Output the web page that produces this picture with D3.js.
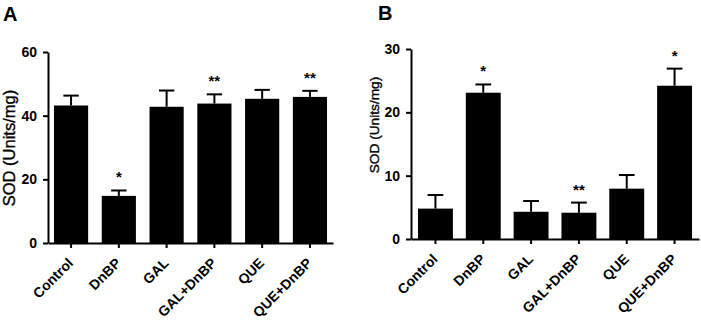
<!DOCTYPE html>
<html>
<head>
<meta charset="utf-8">
<script src="https://cdn.jsdelivr.net/npm/d3@7"></script>
<style>
  body { margin: 0; background: #fff; }
  svg { font-family: "Liberation Sans", Arial, sans-serif; }
  .heavy { stroke: #000; stroke-width: 0.35px; }
</style>
</head>
<body>
<div id="chart"></div>
<script>
// groups on the x axis
const categories = ['Control', 'DnBP', 'GAL', 'GAL+DnBP', 'QUE', 'QUE+DnBP'];

// panel A values (SOD, Units/mg)
const meanA = [43.2, 14.8, 42.8, 43.8, 45.3, 45.9];
const errA = [3.1, 1.7, 5.1, 2.9, 2.8, 1.9];
const sigA = ['', '*', '', '**', '', '**'];
const ticksA = [0, 20, 40, 60];

// panel B values (SOD, Units/mg)
const meanB = [4.8, 23.1, 4.3, 4.15, 7.95, 24.2];
const errB = [2.15, 1.3, 1.7, 1.6, 2.15, 2.7];
const sigB = ['', '*', '', '**', '', '*'];
const ticksB = [0, 10, 20, 30];

const svg = d3.select('#chart')
	.append('svg')
	.attr('width', 701)
	.attr('height', 321);

function drawPanel(opts) {
	const g = svg.append('g');

	const x = d3.scaleBand()
		.domain(categories)
		.range(opts.xRange)
		.paddingInner(opts.padIn)
		.paddingOuter(opts.padOut);

	const y = d3.scaleLinear()
		.domain(opts.yDomain)
		.range(opts.yRange);

	const data = categories.map((c, i) => ({
		cat: c,
		mean: opts.mean[i],
		err: opts.err[i],
		sig: opts.sig[i],
	}));

	// bars
	g.selectAll('rect.bar')
		.data(data)
		.enter()
		.append('rect')
		.attr('class', 'bar')
		.attr('x', (d) => x(d.cat))
		.attr('y', (d) => y(d.mean))
		.attr('width', x.bandwidth())
		.attr('height', (d) => y(0) - y(d.mean))
		.attr('fill', '#000');

	// upper error bars
	const cap = x.bandwidth() * 0.45;
	g.selectAll('line.err')
		.data(data)
		.enter()
		.append('line')
		.attr('x1', (d) => x(d.cat) + x.bandwidth() / 2)
		.attr('x2', (d) => x(d.cat) + x.bandwidth() / 2)
		.attr('y1', (d) => y(d.mean))
		.attr('y2', (d) => y(d.mean + d.err))
		.attr('stroke', '#000')
		.attr('stroke-width', 2);
	g.selectAll('line.cap')
		.data(data)
		.enter()
		.append('line')
		.attr('x1', (d) => x(d.cat) + x.bandwidth() / 2 - cap / 2)
		.attr('x2', (d) => x(d.cat) + x.bandwidth() / 2 + cap / 2)
		.attr('y1', (d) => y(d.mean + d.err))
		.attr('y2', (d) => y(d.mean + d.err))
		.attr('stroke', '#000')
		.attr('stroke-width', 2);

	// significance marks
	g.selectAll('text.sig')
		.data(data.filter((d) => d.sig))
		.enter()
		.append('text')
		.attr('x', (d) => x(d.cat) + x.bandwidth() / 2)
		.attr('y', (d) => y(d.mean + d.err) - 8)
		.attr('text-anchor', 'middle')
		.style('font-size', '15px')
		.style('font-weight', 'bold')
		.text((d) => d.sig);

	// y axis
	const yAxis = g.append('g')
		.attr('transform', `translate(${opts.xRange[0]},0)`)
		.call(d3.axisLeft(y).tickValues(opts.ticks).tickSize(5).tickSizeOuter(0).tickPadding(6));
	yAxis.select('.domain').attr('stroke-width', 2);
	yAxis.selectAll('.tick line').attr('stroke-width', 2);
	yAxis.selectAll('.tick text')
		.style('font-size', '14px')
		.style('font-weight', 'bold')
		.attr('fill', '#000');

	// x axis
	const xAxis = g.append('g')
		.attr('transform', `translate(0,${opts.yRange[0]})`)
		.call(d3.axisBottom(x).tickSize(5).tickSizeOuter(0));
	xAxis.select('.domain').attr('stroke-width', 2);
	xAxis.selectAll('.tick line').attr('stroke-width', 2);
	xAxis.selectAll('.tick text')
		.attr('x', 0)
		.attr('y', 0)
		.attr('dy', 0)
		.attr('text-anchor', 'end')
		.attr('transform', 'translate(3,21) rotate(-45)')
		.style('font-size', '14px')
		.style('font-weight', 'bold')
		.attr('fill', '#000');

	// y axis title
	g.append('text')
		.attr('class', 'heavy')
		.attr('transform', `translate(${opts.labelX},${opts.labelY}) rotate(-90)`)
		.attr('text-anchor', 'middle')
		.attr('dy', '0.35em')
		.style('font-size', opts.labelSize)
		.text('SOD (Units/mg)');

	// panel letter
	g.append('text')
		.attr('x', opts.letterX)
		.attr('y', opts.letterY)
		.style('font-size', '20px')
		.style('font-weight', 'bold')
		.text(opts.letter);
}

drawPanel({
	xRange: [48, 333],
	padIn: 0.285,
	padOut: 0.125,
	yDomain: [0, 60],
	yRange: [243, 52],
	mean: meanA,
	err: errA,
	sig: sigA,
	ticks: ticksA,
	labelX: 9,
	labelY: 148,
	labelSize: '16.5px',
	letter: 'A',
	letterX: 3,
	letterY: 21,
});

drawPanel({
	xRange: [411, 699],
	padIn: 0.27,
	padOut: 0.146,
	yDomain: [0, 30],
	yRange: [239, 49],
	mean: meanB,
	err: errB,
	sig: sigB,
	ticks: ticksB,
	labelX: 374,
	labelY: 125,
	labelSize: '13.7px',
	letter: 'B',
	letterX: 378,
	letterY: 20,
});
</script>
</body>
</html>
